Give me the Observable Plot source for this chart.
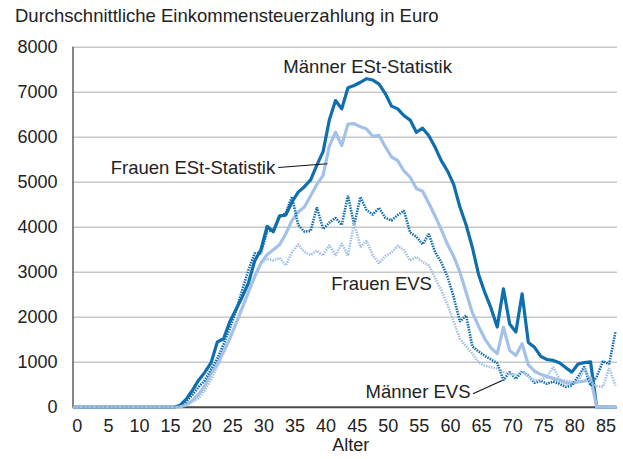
<!DOCTYPE html>
<html><head><meta charset="utf-8">
<script src="https://cdn.jsdelivr.net/npm/d3@7"></script>
<script src="https://cdn.jsdelivr.net/npm/@observablehq/plot@0.6"></script>
<style>
body{margin:0;background:#fff;font-family:"Liberation Sans",Arial,sans-serif;}
#title{height:30px;line-height:30px;font-size:18.5px;padding-left:15px;color:#222;box-sizing:border-box;padding-top:1px;white-space:nowrap}
#chart svg{display:block}
</style></head><body>
<div id="title">Durchschnittliche Einkommensteuerzahlung in Euro</div>
<div id="chart"></div>
<script>
const ages = d3.range(0, 88);
const z17 = new Array(17).fill(0);
const maennerESt = z17.concat([40,180,380,600,780,990,1450,1520,1900,2170,2450,2760,3250,3500,4020,3900,4250,4270,4560,4780,4900,5050,5380,5680,6380,6815,6630,7100,7150,7220,7300,7270,7180,6970,6690,6630,6480,6380,6110,6200,6030,5780,5480,5250,4950,4450,4050,3550,2950,2550,2200,1780,2630,1850,1670,2520,1440,1330,1130,1060,1040,990,880,780,960,990,1010,0,0,0,0]);
const frauenESt = z17.concat([10,50,150,290,480,760,970,1250,1530,1860,2210,2560,2900,3200,3390,3500,3610,3850,4150,4340,4450,4700,4950,5150,5800,6110,5815,6290,6300,6230,6180,6020,6040,5790,5560,5480,5250,5110,4860,4800,4530,4250,3950,3620,3350,3000,2550,2100,1800,1520,1320,1190,1780,1260,1150,1410,940,800,730,680,640,600,540,530,560,580,650,0,0,0,0]);
const maennerEVS = z17.concat([30,120,280,450,600,850,1080,1400,1750,2150,2600,3050,3420,3420,3900,3940,4220,4320,4680,4050,3900,3920,4440,3960,4100,4210,4050,4700,4050,4670,4380,4280,4430,4210,4150,4270,4370,3880,3790,3620,3850,3450,3220,2900,2450,1900,2040,1350,1240,1140,1060,980,600,780,630,800,700,540,590,520,570,520,450,480,680,900,480,680,1020,960,1670]);
const frauenEVS = z17.concat([10,50,120,200,380,620,900,1200,1500,1850,2200,2550,2900,3200,3300,3260,3320,3150,3440,3620,3450,3380,3480,3370,3600,3370,3640,3370,4100,3560,3700,3370,3200,3360,3440,3590,3490,3260,3340,3230,3150,2870,2600,2280,1900,1520,1350,1190,1000,920,890,860,780,740,720,790,680,600,600,680,890,620,590,570,560,870,570,470,450,870,480]);

const xTicks = d3.range(0, 86, 5);
const yTicks = d3.range(0, 8001, 1000);

const labelTexts = ["Männer ESt-Statistik", "Frauen ESt-Statistik", "Frauen EVS", "Männer EVS"];
const labelAge = [33.6, 32.3, 41.3, 63.7];
const labelVal = [7560, 5311, 2742, 333];
const labelAnchor = ["start", "end", "start", "end"];
const leaderFrom = [[32.8, 5327], [64.1, 298]];
const leaderTo = [[40.7, 5409], [68.8, 593]];

const dark = "#0f6eae";
const light = "#a4c2e8";

const rows = (vals) => ages.map((a, i) => ({age: a, value: vals[i]}));
const labels = labelTexts.map((t, i) => ({t, x: labelAge[i], y: labelVal[i], a: labelAnchor[i]}));
const leaders = leaderFrom.map((f, i) => ({x1: f[0], y1: f[1], x2: leaderTo[i][0], y2: leaderTo[i][1]}));

const chart = Plot.plot({
  width: 623, height: 429,
  marginLeft: 73.8, marginRight: 8.1, marginTop: 16.7, marginBottom: 52.3,
  x: {domain: [0, 87]},
  y: {domain: [0, 8000]},
  style: {fontFamily: "Liberation Sans, Arial, sans-serif", fontSize: "18px", color: "#222", background: "white"},
  marks: [
    Plot.ruleY(yTicks.filter(d => d > 0), {stroke: "#c8c8c8", strokeWidth: 1.5, insetLeft: -1.3, insetRight: -2}),
    Plot.ruleX([0], {stroke: "#5e5e5e", strokeWidth: 1.5, dx: -1.3}),
    Plot.ruleY([0], {stroke: "#4a4a4a", strokeWidth: 2, insetLeft: -1.3, insetRight: -2}),
    Plot.axisY({ticks: yTicks, tickSize: 0, tickPadding: 16.8, tickFormat: d => String(d), fontSize: 18, label: null}),
    Plot.axisX({ticks: xTicks, tickSize: 0, tickPadding: 12.5, dx: 3, fontSize: 18, label: null, tickFormat: d => String(d)}),
    Plot.text(["Alter"], {frameAnchor: "bottom", dy: 43.5, dx: 6, fontSize: 18}),
    Plot.line(rows(maennerESt), {x: "age", y: "value", stroke: dark, strokeWidth: 3.2, strokeLinejoin: "round"}),
    Plot.line(rows(frauenESt), {x: "age", y: "value", stroke: light, strokeWidth: 3.2, strokeLinejoin: "round"}),
    Plot.line(rows(maennerEVS), {x: "age", y: "value", stroke: dark, strokeWidth: 2.6, strokeDasharray: "1.5,1.1", strokeLinecap: "butt", strokeLinejoin: "miter"}),
    Plot.line(rows(frauenEVS), {x: "age", y: "value", stroke: light, strokeWidth: 2.6, strokeDasharray: "1.5,1.1", strokeLinecap: "butt", strokeLinejoin: "miter"}),
    Plot.link(leaders, {x1: "x1", y1: "y1", x2: "x2", y2: "y2", stroke: "#111", strokeWidth: 1.1}),
    Plot.text(labels.filter(d => d.a === "start"), {x: "x", y: "y", text: "t", textAnchor: "start", fontSize: 18.5, fill: "#222"}),
    Plot.text(labels.filter(d => d.a === "end"), {x: "x", y: "y", text: "t", textAnchor: "end", fontSize: 18.5, fill: "#222"})
  ]
});
document.getElementById("chart").appendChild(chart);
</script>
</body></html>
